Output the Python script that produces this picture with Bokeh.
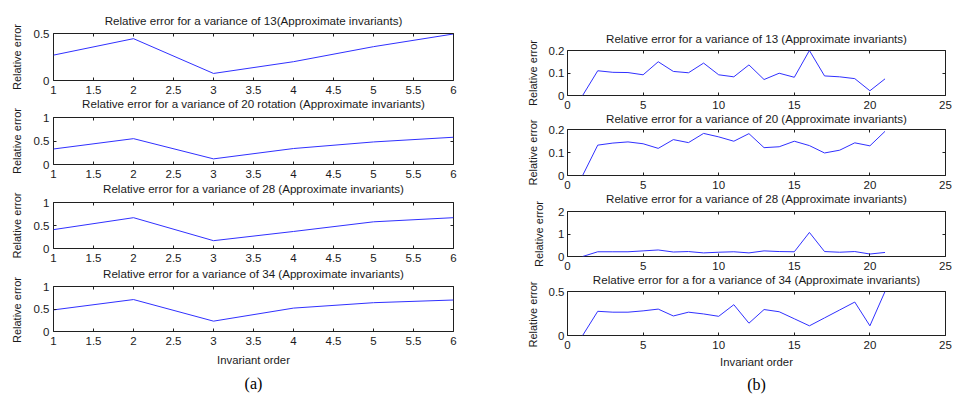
import math
from bokeh.plotting import figure
from bokeh.models import LinearAxis, FixedTicker, CustomJSTickFormatter, Range1d, Title, Label
from bokeh.layouts import row, column
from bokeh.embed import file_html
from bokeh.resources import INLINE

# ---------------- data ----------------
# panel (a): approximate invariants, orders 1..6
order_a = [1, 2, 3, 4, 5, 6]
err_a_13 = [0.27, 0.445, 0.075, 0.20, 0.36, 0.495]
err_a_20 = [0.33, 0.55, 0.12, 0.34, 0.48, 0.58]
err_a_28 = [0.41, 0.67, 0.17, 0.37, 0.58, 0.67]
err_a_34 = [0.48, 0.71, 0.23, 0.52, 0.64, 0.70]

# panel (b): orders 1..21
order_b = list(range(1, 22))
err_b_13 = [0.0, 0.110, 0.103, 0.102, 0.092, 0.150, 0.107, 0.101, 0.144, 0.092, 0.083,
            0.136, 0.071, 0.099, 0.081, 0.200, 0.087, 0.083, 0.075, 0.021, 0.074]
err_b_20 = [0.0, 0.132, 0.141, 0.146, 0.138, 0.118, 0.156, 0.143, 0.183, 0.168, 0.149,
            0.182, 0.121, 0.125, 0.149, 0.130, 0.098, 0.110, 0.142, 0.129, 0.192]
err_b_28 = [0.0, 0.21, 0.21, 0.21, 0.25, 0.29, 0.20, 0.22, 0.16, 0.19, 0.21,
            0.16, 0.25, 0.22, 0.21, 1.07, 0.22, 0.19, 0.22, 0.11, 0.18]
err_b_34 = [0.0, 0.275, 0.265, 0.265, 0.280, 0.300, 0.222, 0.265, 0.245, 0.218, 0.350,
            0.140, 0.295, 0.270, 0.190, 0.110, 0.200, 0.290, 0.380, 0.110, 0.500]

titles_a = [
    "Relative error for a variance of 13(Approximate invariants)",
    "Relative error for a variance of 20 rotation (Approximate invariants)",
    "Relative error for a variance of 28 (Approximate invariants)",
    "Relative error for a variance of 34 (Approximate invariants)",
]
titles_b = [
    "Relative error for a variance of 13 (Approximate invariants)",
    "Relative error for a variance of 20 (Approximate invariants)",
    "Relative error for a variance of 28 (Approximate invariants)",
    "Relative error for a for a variance of 34 (Approximate invariants)",
]
x_ticks_a = [1, 1.5, 2, 2.5, 3, 3.5, 4, 4.5, 5, 5.5, 6]
x_ticks_b = [0, 5, 10, 15, 20, 25]
y_ticks_a = [[0, 0.5], [0, 0.5, 1], [0, 0.5, 1], [0, 0.5, 1]]
y_max_a = [0.5, 1, 1, 1]
y_ticks_b = [[0, 0.1, 0.2], [0, 0.1, 0.2], [0, 1, 2], [0, 0.5]]
y_max_b = [0.2, 0.2, 2, 0.5]
x_label = "Invariant order"
y_label = "Relative error"

# ---------------- style ----------------
FONT = "Liberation Sans"
TXT = "#1a1a1a"
FRAME = "#202020"
LINE = "#3030ff"
FMT = "return tick.toString();"
TITLE_SIZE = "11.6px"


def tick_only_axis(ticks):
    return LinearAxis(ticker=FixedTicker(ticks=ticks),
                      formatter=CustomJSTickFormatter(code="return '';"),
                      major_label_text_font_size="0px", major_label_standoff=0,
                      major_tick_in=3, major_tick_out=0, minor_tick_line_color=None,
                      axis_line_color=None, major_tick_line_color=FRAME)


def make_fig(x, y, xr, xt, yr, yt, width, height, bt, bb, bl, br, ytick_standoff,
             top_title=None, top_standoff=0, next_title=None, next_standoff=0,
             xlabel=None, xlabel_standoff=0, sub=None, sub_standoff=0):
    p = figure(width=width, height=height,
               x_range=Range1d(*xr), y_range=Range1d(*yr),
               output_backend="svg", toolbar_location=None,
               min_border_top=bt, min_border_bottom=bb,
               min_border_left=bl, min_border_right=br)
    if top_title:
        p.title.text = top_title
        p.title.text_font = FONT
        p.title.text_font_size = TITLE_SIZE
        p.title.text_font_style = "normal"
        p.title.text_color = TXT
        p.title.align = "center"
        p.title.standoff = top_standoff
    p.grid.visible = False
    p.outline_line_color = FRAME
    p.outline_line_width = 1
    p.background_fill_color = "white"
    p.border_fill_color = "white"

    for ax, ticks in ((p.xaxis[0], xt), (p.yaxis[0], yt)):
        ax.ticker = FixedTicker(ticks=ticks)
        ax.formatter = CustomJSTickFormatter(code=FMT)
        ax.major_tick_in = 3
        ax.major_tick_out = 0
        ax.minor_tick_line_color = None
        ax.axis_line_color = None
        ax.major_tick_line_color = FRAME
        ax.major_label_text_font = FONT
        ax.major_label_text_font_size = "11.5px"
        ax.major_label_text_color = TXT
        ax.axis_label_text_font = FONT
        ax.axis_label_text_font_style = "normal"
        ax.axis_label_text_color = TXT
    p.xaxis[0].major_label_standoff = 5
    p.yaxis[0].major_label_standoff = ytick_standoff
    if xlabel:
        p.xaxis[0].axis_label = xlabel
        p.xaxis[0].axis_label_standoff = xlabel_standoff
        p.xaxis[0].axis_label_text_font_size = "11.3px"

    # mirrored tick marks on top and right (MATLAB box style)
    p.add_layout(tick_only_axis(xt), "above")
    p.add_layout(tick_only_axis(yt), "right")

    p.line(x, y, line_color=LINE, line_width=1)

    if next_title:
        # title of the subplot underneath, drawn under this axis
        p.add_layout(Title(text=next_title, align="center", text_font=FONT,
                           text_font_size=TITLE_SIZE, text_font_style="normal",
                           text_color=TXT, standoff=next_standoff), "below")
    if sub:
        p.add_layout(Title(text=sub, align="center", text_font="Liberation Serif",
                           text_font_size="16px", text_font_style="normal",
                           text_color="black", standoff=sub_standoff), "below")
    return p


def label_strip(width, height, xs, ys):
    """Narrow canvas holding the rotated y-axis labels of one column."""
    s = figure(width=width, height=height, x_range=Range1d(0, width),
               y_range=Range1d(height, 0), output_backend="svg",
               toolbar_location=None, x_axis_type=None, y_axis_type=None,
               min_border_left=0, min_border_right=0, min_border_top=0,
               min_border_bottom=0)
    s.outline_line_color = None
    s.grid.visible = False
    s.border_fill_color = "white"
    for lx, ly in zip(xs, ys):
        s.add_layout(Label(x=lx, y=ly, text=y_label, angle=math.pi / 2,
                           text_align="center", text_baseline="middle",
                           text_font=FONT, text_font_size="11px", text_color=TXT))
    return s


def frame_centers(heights, tops, frames):
    out, y0 = [], 0
    for h, t, f in zip(heights, tops, frames):
        out.append(y0 + t + f / 2)
        y0 += h
    return out


# ---------- left column (a) ----------
STRIP_A = 24
WA = 466
a_heights = [113, 85, 84, 114]
a_tops = [33, 4, 4, 4]
a_bottoms = [33, 34, 34, 63]
a_frames = [h - t - b for h, t, b in zip(a_heights, a_tops, a_bottoms)]
a_next_standoff = [-3, -2, 0]
a_data = [err_a_13, err_a_20, err_a_28, err_a_34]

figs_a = []
for i in range(4):
    figs_a.append(make_fig(order_a, a_data[i], (1, 6), x_ticks_a,
                           (0, y_max_a[i]), y_ticks_a[i], WA, a_heights[i],
                           a_tops[i], a_bottoms[i], 29, 37, 4,
                           top_title=titles_a[0] if i == 0 else None, top_standoff=13,
                           next_title=titles_a[i + 1] if i < 3 else None,
                           next_standoff=a_next_standoff[i] if i < 3 else 0,
                           xlabel=x_label if i == 3 else None, xlabel_standoff=6,
                           sub="(a)" if i == 3 else None, sub_standoff=9))
strip_a = label_strip(STRIP_A, sum(a_heights), [16] * 4,
                      frame_centers(a_heights, a_tops, a_frames))

# ---------- right column (b) ----------
STRIP_B = 55
WB = 410
b_heights = [125, 82, 80, 109]
b_tops = [50, 4, 4, 4]
b_bottoms = [30, 32, 31, 59]
b_frames = [h - t - b for h, t, b in zip(b_heights, b_tops, b_bottoms)]
b_next_standoff = [-4, -4, -4]
b_data = [err_b_13, err_b_20, err_b_28, err_b_34]

figs_b = []
for i in range(4):
    figs_b.append(make_fig(order_b, b_data[i], (0, 25), x_ticks_b,
                           (0, y_max_b[i]), y_ticks_b[i], WB, b_heights[i],
                           b_tops[i], b_bottoms[i], 20, 10, 3,
                           top_title=titles_b[0] if i == 0 else None, top_standoff=11,
                           next_title=titles_b[i + 1] if i < 3 else None,
                           next_standoff=b_next_standoff[i] if i < 3 else 0,
                           xlabel=x_label if i == 3 else None, xlabel_standoff=4,
                           sub="(b)" if i == 3 else None, sub_standoff=7))
strip_b = label_strip(STRIP_B, sum(b_heights), [42, 42, 48, 42],
                      frame_centers(b_heights, b_tops, b_frames))

layout = row(strip_a, column(*figs_a, spacing=0), strip_b, column(*figs_b, spacing=0),
             spacing=0)

open("out.html", "w").write(file_html(layout, INLINE))
